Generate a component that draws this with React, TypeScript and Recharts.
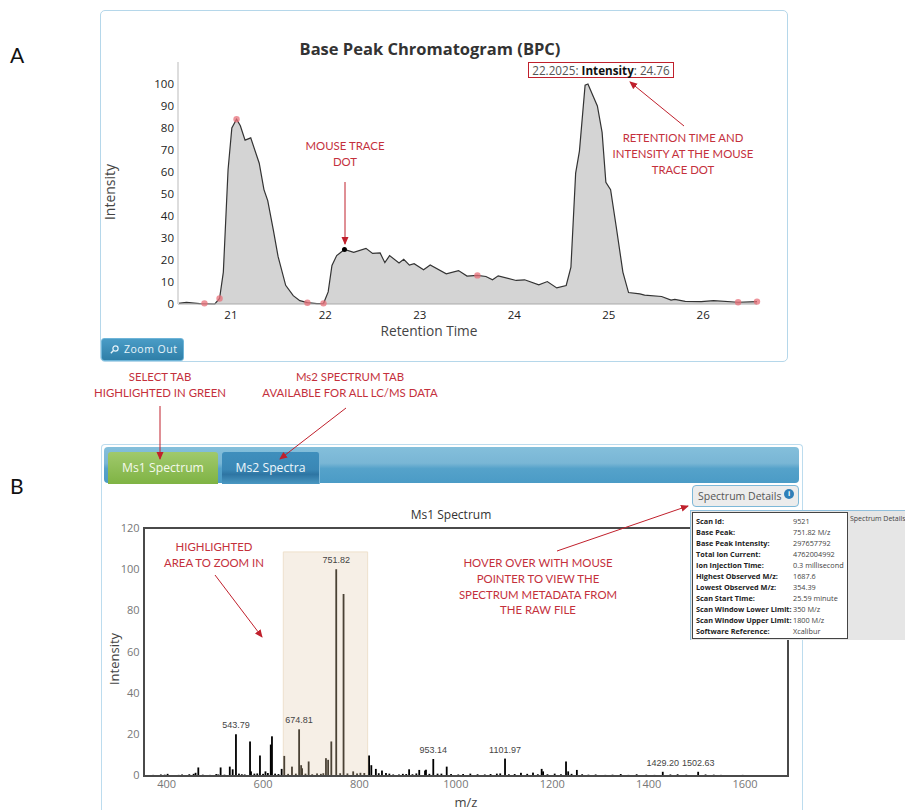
import { Area, Bar, BarChart, ComposedChart, LabelList, ReferenceArea, ReferenceDot, XAxis, YAxis } from "recharts";

// --- chromatogram (panel A)
const retentionTimes = [
  20.44, 20.53, 20.67, 20.83, 20.88, 20.92, 20.97, 21.01, 21.06, 21.1, 21.15, 21.21, 21.3, 21.35, 21.39, 21.45,
  21.5, 21.58, 21.66, 21.73, 21.81, 21.91, 21.98, 22.03, 22.07, 22.12, 22.2025, 22.3, 22.43, 22.5, 22.58, 22.63,
  22.68, 22.78, 22.83, 22.89, 22.94, 23.04, 23.11, 23.28, 23.41, 23.5, 23.61, 23.7, 23.77, 23.83, 24.02, 24.11,
  24.26, 24.35, 24.45, 24.55, 24.6, 24.65, 24.69, 24.75, 24.78, 24.84, 24.88, 24.93, 24.97, 25.02, 25.08, 25.15,
  25.21, 25.33, 25.38, 25.56, 25.66, 25.7, 25.81, 25.98, 26.11, 26.37, 26.57,
];
const bpcIntensity = [
  0.3, 0.7, 0.2, 0, 2.5, 14.5, 61, 80, 84, 81, 74.5, 75.5, 64, 52, 47, 33.5,
  21.5, 8.5, 3.8, 1.5, 0.6, 0.2, 0.2, 5.5, 17.5, 22, 24.76, 23.5, 25.3, 23, 23.2, 18.8,
  22, 18.6, 20.3, 17.7, 18.3, 15.6, 17.7, 13.7, 15.2, 12.7, 13, 12.5, 11, 12.8, 10.7, 11,
  8.7, 10.2, 7.3, 8.4, 16.8, 59.5, 69.5, 99.5, 100, 94, 90, 78, 55.3, 52, 35, 14.5,
  5.2, 4.6, 4, 3.4, 1.8, 2.1, 1.2, 1.1, 1.5, 0.8, 1.1,
];
const markerTimes = [20.72, 20.88, 21.06, 21.81, 21.98, 23.61, 26.37, 26.57];
const markerIntensity = [0.3, 2.5, 84, 0.6, 0.3, 13, 0.8, 1.1];
const bpcTicksX = [21, 22, 23, 24, 25, 26];
const bpcTicksY = [0, 10, 20, 30, 40, 50, 60, 70, 80, 90, 100];

// --- ms1 spectrum (panel B)
const peakMz = [
  465.7, 512, 531, 537, 543.79, 573, 575, 593.6, 605, 616, 618.5, 638.6, 644, 660, 674.81, 679, 681, 694.6,
  730.5, 735, 741.6, 751.82, 767, 787, 820, 824.6, 834, 846.7, 855, 903, 924, 936, 938, 953.14, 981,
  1101.97, 1178, 1181, 1228.5, 1233, 1251, 1429.2, 1502.63,
];
const peakIntensity = [
  3.9, 3.9, 4.3, 3, 20, 16.5, 2, 9.7, 2, 15, 19, 3.2, 9.5, 4.3, 22.4, 5, 3.5, 6.8,
  8.4, 7.6, 16.5, 100, 88, 2, 9.7, 5, 3.2, 2.4, 1.2, 3, 2.7, 2.4, 2.8, 8, 4.3,
  8.2, 3.2, 2, 6.8, 2, 2.7, 1.8, 1.8,
];
const peakLabels = ["543.79", "674.81", "751.82", "953.14", "1101.97", "1429.20", "1502.63"];
const noiseMz = [
  372, 388, 396, 402, 425, 432, 447, 456, 460, 475, 490, 503, 507, 520, 550, 556, 562, 582, 588, 600, 610, 625, 632,
  652, 668, 688, 702, 712, 720, 725, 760, 775, 795, 802, 810, 840, 862, 870, 882, 890, 897, 910, 918, 945, 962, 970,
  990, 1005, 1015, 1030, 1045, 1060, 1072, 1085, 1092, 1110, 1122, 1135, 1148, 1160, 1170, 1190, 1205, 1218, 1240,
  1262, 1275, 1290, 1310, 1325, 1342, 1358, 1375, 1395, 1412, 1445, 1460, 1478, 1518, 1535, 1550, 1595, 1660,
];
const noiseIntensity = [
  0.3, 0.5, 0.4, 0.8, 0.3, 0.5, 0.6, 0.8, 1.3, 0.4, 0.3, 0.7, 0.5, 0.4, 0.9, 0.6, 0.5, 0.9, 1, 0.8, 1.2, 0.9, 0.7,
  0.8, 0.9, 0.9, 0.6, 1, 0.8, 1.1, 1.1, 1, 1, 1.3, 1.2, 1.1, 0.9, 0.5, 0.5, 0.8, 0.7, 0.6, 1, 0.8, 0.9, 0.9,
  0.7, 0.5, 0.7, 0.9, 0.6, 0.5, 0.7, 0.9, 1, 0.6, 0.7, 1.3, 0.8, 1.4, 0.6, 0.6, 0.9, 0.6, 0.8,
  0.6, 0.4, 0.5, 0.3, 0.4, 0.7, 0.3, 0.6, 0.4, 0.3, 0.5, 0.6, 0.4, 0.5, 0.4, 0.3, 0.3, 0.2,
];
const specTicksX = [400, 600, 800, 1000, 1200, 1400, 1600];
const specTicksY = [0, 20, 40, 60, 80, 100, 120];
const zoomRange = [642, 817];

const detailRows = [
  ["Scan Id:", "9521"],
  ["Base Peak:", "751.82 M/z"],
  ["Base Peak Intensity:", "297657792"],
  ["Total Ion Current:", "4762004992"],
  ["Ion Injection Time:", "0.3 millisecond"],
  ["Highest Observed M/z:", "1687.6"],
  ["Lowest Observed M/z:", "354.39"],
  ["Scan Start Time:", "25.59 minute"],
  ["Scan Window Lower Limit:", "350 M/z"],
  ["Scan Window Upper Limit:", "1800 M/z"],
  ["Software Reference:", "Xcalibur"],
];

const bpcData = retentionTimes.map((t, i) => ({ t, v: bpcIntensity[i] }));
const specData = [
  ...peakMz.map((mz, i) => ({
    mz,
    v: peakIntensity[i],
    label: peakLabels.find((l) => Number(l) === mz),
  })),
  ...noiseMz.map((mz, i) => ({ mz, v: noiseIntensity[i], label: undefined })),
].sort((a, b) => a.mz - b.mz);

const UI_FONT = "'Open Sans', sans-serif";
const NOTE_FONT = "Lato, sans-serif";
const NOTE_RED = "#c4303c";

const notes: [string, number, number][] = [
  ["MOUSE TRACE", 345, 150],
  ["DOT", 345, 166],
  ["RETENTION TIME AND", 683, 142],
  ["INTENSITY AT THE MOUSE", 683, 158],
  ["TRACE DOT", 683, 174],
  ["SELECT TAB", 160, 381],
  ["HIGHLIGHTED IN GREEN", 160, 397],
  ["Ms2 SPECTRUM TAB", 350, 381],
  ["AVAILABLE FOR ALL LC/MS DATA", 350, 397],
  ["HIGHLIGHTED", 214, 551],
  ["AREA TO ZOOM IN", 214, 567],
  ["HOVER OVER WITH MOUSE", 538, 567],
  ["POINTER TO VIEW THE", 538, 583],
  ["SPECTRUM METADATA FROM", 538, 599],
  ["THE RAW FILE", 538, 614],
];
const arrows: [number, number, number, number][] = [
  [345, 182, 345, 244],
  [684, 126, 630, 82],
  [160, 406, 160, 459],
  [346, 408, 280, 459],
  [215, 575, 262, 637],
  [557, 551, 688, 506],
];

// the band on a numeric axis collapses to the tightest gap, so keep the stick width here
function Stick(props: any) {
  const { x, y, width, height, mz } = props;
  const inZoom = mz >= zoomRange[0] && mz <= zoomRange[1];
  return <rect x={x + width / 2 - 0.9} y={y} width={1.8} height={height} fill={inZoom ? "#4a4235" : "#000"} />;
}

function Annotations() {
  return (
    <svg width={905} height={810} style={{ position: "absolute", left: 0, top: 0, zIndex: 5, pointerEvents: "none" }}>
      <defs>
        <marker id="head" markerWidth="8" markerHeight="8" refX="7" refY="3.5" orient="auto" markerUnits="userSpaceOnUse">
          <path d="M0,0 L8,3.5 L0,7 Z" fill="#c0202c" />
        </marker>
      </defs>
      {arrows.map(([x1, y1, x2, y2], i) => (
        <line key={i} x1={x1} y1={y1} x2={x2} y2={y2} stroke="#c0202c" strokeWidth={1} markerEnd="url(#head)" />
      ))}
      {notes.map(([text, x, y]) => (
        <text key={text} x={x} y={y} textAnchor="middle" fontFamily={NOTE_FONT} fontSize={11.4} fill={NOTE_RED}>
          {text}
        </text>
      ))}
      <text x={10} y={63} fontFamily={NOTE_FONT} fontSize={21} fill="#111">A</text>
      <text x={10} y={494} fontFamily={NOTE_FONT} fontSize={21} fill="#111">B</text>

      {/* axis titles sit off-centre from the plots in the original */}
      <text x={429} y={336} textAnchor="middle" fontFamily={UI_FONT} fontSize={13.7} fill="#444">Retention Time</text>
      <text x={115} y={192} transform="rotate(-90 115 192)" textAnchor="middle" fontFamily={UI_FONT} fontSize={14} fill="#444">Intensity</text>
      <text x={119} y={659} transform="rotate(-90 119 659)" textAnchor="middle" fontFamily={UI_FONT} fontSize={13} fill="#444">Intensity</text>
      <text x={466} y={807} textAnchor="middle" fontFamily={UI_FONT} fontSize={13} fill="#444">m/z</text>
    </svg>
  );
}

function BpcPanel() {
  return (
    <div
      style={{
        position: "absolute", left: 100, top: 10, width: 686, height: 350, background: "#fff",
        border: "1px solid #b5d7ea", borderRadius: 5,
      }}
    >
      <div
        style={{
          position: "absolute", left: 0, width: 658, top: 26, textAlign: "center",
          font: `bold 16.5px ${UI_FONT}`, color: "#333",
        }}
      >
        Base Peak Chromatogram (BPC)
      </div>
      <div
        style={{
          position: "absolute", left: 427, top: 51, width: 144, height: 14, border: "1px solid #c0202c",
          font: `11.7px/14px ${UI_FONT}`, color: "#555", textAlign: "center", whiteSpace: "nowrap",
        }}
      >
        22.2025: <b style={{ color: "#111" }}>Intensity</b>: 24.76
      </div>
      <ComposedChart
        width={686}
        height={350}
        data={bpcData}
        margin={{ top: 51, right: 30, bottom: 27, left: 37 }}
      >
        <XAxis
          dataKey="t"
          type="number"
          domain={[20.44, 26.57]}
          ticks={bpcTicksX}
          height={30}
          tickSize={5}
          tick={{ fontSize: 11.5, fontFamily: UI_FONT, fill: "#222" }}
          tickLine={false}
          axisLine={{ stroke: "#aaa" }}
        />
        <YAxis
          type="number"
          domain={[0, 110]}
          ticks={bpcTicksY}
          width={40}
          tickSize={2}
          tick={{ fontSize: 11.5, fontFamily: UI_FONT, fill: "#222" }}
          tickLine={false}
          axisLine={{ stroke: "#ddd", strokeWidth: 2 }}
        />
        <Area
          dataKey="v"
          type="linear"
          stroke="#333"
          strokeWidth={1.2}
          fill="#d4d4d4"
          fillOpacity={1}
          dot={false}
          activeDot={false}
          isAnimationActive={false}
        />
        {markerTimes.map((t, i) => (
          <ReferenceDot key={t} x={t} y={markerIntensity[i]} r={3.2} fill="#e8707a" fillOpacity={0.75} stroke="none" ifOverflow="visible" />
        ))}
        <ReferenceDot x={22.2025} y={24.76} r={2.5} fill="#000" stroke="none" />
      </ComposedChart>
      <div
        style={{
          position: "absolute", left: 0, top: 327, width: 83, height: 23, borderRadius: 3, boxSizing: "border-box",
          background: "linear-gradient(#4a9cc6, #2f7fa8)", border: "1px solid #6fb5d8", color: "#e8f4fa",
          font: `10.5px/21px ${UI_FONT}`, letterSpacing: 0.5, paddingLeft: 22, whiteSpace: "nowrap",
        }}
      >
        <svg width={9} height={9} style={{ position: "absolute", left: 8, top: 6 }}>
          <circle cx={5.5} cy={3.5} r={2.6} fill="none" stroke="#e8f4fa" strokeWidth={1.2} />
          <line x1={3.5} y1={5.5} x2={0.8} y2={8.2} stroke="#e8f4fa" strokeWidth={1.4} />
        </svg>
        Zoom Out
      </div>
    </div>
  );
}

function SpectrumPanel() {
  return (
    <div
      style={{
        position: "absolute", left: 101, top: 444, width: 700, height: 366, background: "#fff",
        border: "1px solid #bcdcee", borderBottom: "none", borderRadius: "4px 4px 0 0",
      }}
    >
      <div
        style={{
          position: "absolute", left: 2, top: 2, width: 695, height: 36, borderRadius: 4,
          background: "linear-gradient(#84bfdb 0%, #79b6d5 45%, #55a2ca 60%, #4b9bc6 100%)",
        }}
      />
      <div
        style={{
          position: "absolute", left: 6, top: 7, width: 110, height: 32, borderRadius: "3px 3px 0 0",
          background: "linear-gradient(#a0c96c, #7fb344)", color: "#f4f9ec",
          font: `12.2px/32px ${UI_FONT}`, textAlign: "center",
        }}
      >
        Ms1 Spectrum
      </div>
      <div
        style={{
          position: "absolute", left: 120, top: 7, width: 97, height: 32, borderRadius: "3px 3px 0 0",
          background: "linear-gradient(#3f8fbd 0%, #3a87b5 55%, #2e75a3 70%, #4a98c2 100%)",
          borderRight: "1px solid #7db8d8", color: "#eef7fb", font: `12.2px/32px ${UI_FONT}`, textAlign: "center",
        }}
      >
        Ms2 Spectra
      </div>
      <div
        style={{
          position: "absolute", left: 299, top: 61, width: 100, textAlign: "center",
          font: `12px ${UI_FONT}`, color: "#333",
        }}
      >
        Ms1 Spectrum
      </div>
      <div style={{ position: "absolute", left: 0, top: 56 }}>
        <BarChart
          width={700}
          height={310}
          data={specData}
          margin={{ top: 27, right: 14, bottom: 5.5, left: 0.5 }}
        >
          <XAxis
            dataKey="mz"
            type="number"
            domain={[352, 1689]}
            ticks={specTicksX}
            height={30}
            tickSize={3}
            tick={{ fontSize: 11, fontFamily: UI_FONT, fill: "#777" }}
            tickLine={false}
            axisLine={false}
          />
          <YAxis
            type="number"
            domain={[0, 120]}
            ticks={specTicksY}
            width={41}
            tickSize={2}
            tick={{ fontSize: 11, fontFamily: UI_FONT, fill: "#777" }}
            tickLine={false}
            axisLine={false}
          />
          <ReferenceArea
            x1={zoomRange[0]}
            x2={zoomRange[1]}
            y1={0}
            y2={108.4}
            fill="#e4ceb2"
            fillOpacity={0.32}
            stroke="#eee0cc"
            ifOverflow="visible"
          />
          <Bar dataKey="v" fill="#000" shape={Stick} isAnimationActive={false}>
            <LabelList dataKey="label" position="top" offset={6} fontSize={9} fontFamily="'Liberation Sans', sans-serif" fill="#444" />
          </Bar>
        </BarChart>
      </div>
      {/* plot frame */}
      <div
        style={{
          position: "absolute", left: 41, top: 82, width: 646, height: 250, boxSizing: "border-box",
          border: "2px solid #4a4a4a", pointerEvents: "none",
        }}
      />
    </div>
  );
}

function DetailsPopup() {
  return (
    <>
      <div
        style={{
          position: "absolute", left: 692, top: 485, width: 107, height: 22, boxSizing: "border-box", zIndex: 3,
          border: "1px solid #7db8d8", borderRadius: 4, background: "#ececec", color: "#555",
          font: `10.5px/20px ${UI_FONT}`, paddingLeft: 5, whiteSpace: "nowrap",
        }}
      >
        Spectrum Details
        <span
          style={{
            position: "absolute", right: 4, top: 3, width: 10, height: 10, borderRadius: 5, background: "#2f7fb8",
            color: "#fff", font: "bold 8px/10px 'Liberation Sans', sans-serif", textAlign: "center",
          }}
        >
          i
        </span>
      </div>
      <div
        style={{
          position: "absolute", left: 690, top: 510, width: 215, height: 130, background: "#e6e6e6", zIndex: 3,
          borderTop: "1px solid #8fbfdc", borderLeft: "1px solid #8fbfdc", boxSizing: "border-box",
        }}
      >
        <div style={{ position: "absolute", left: 159, top: 3, font: `7px ${UI_FONT}`, color: "#444", whiteSpace: "nowrap" }}>Spectrum Details</div>
        <div
          style={{
            position: "absolute", left: 1, top: 1, width: 156, height: 127, boxSizing: "border-box",
            background: "#fff", border: "1px solid #444",
          }}
        >
          {detailRows.map(([name, value], i) => (
            <div key={name} style={{ position: "absolute", top: 2.5 + i * 11.06, left: 3, font: `7.3px/11px ${UI_FONT}`, whiteSpace: "nowrap" }}>
              <b style={{ color: "#222" }}>{name}</b>
              <span style={{ position: "absolute", left: 97, color: "#444" }}>{value}</span>
            </div>
          ))}
        </div>
      </div>
    </>
  );
}

export default function App() {
  return (
    <div style={{ position: "absolute", left: 0, top: 0, width: 905, height: 810, overflow: "hidden", background: "#fff" }}>
      <BpcPanel />
      <SpectrumPanel />
      <DetailsPopup />
      <Annotations />
    </div>
  );
}
